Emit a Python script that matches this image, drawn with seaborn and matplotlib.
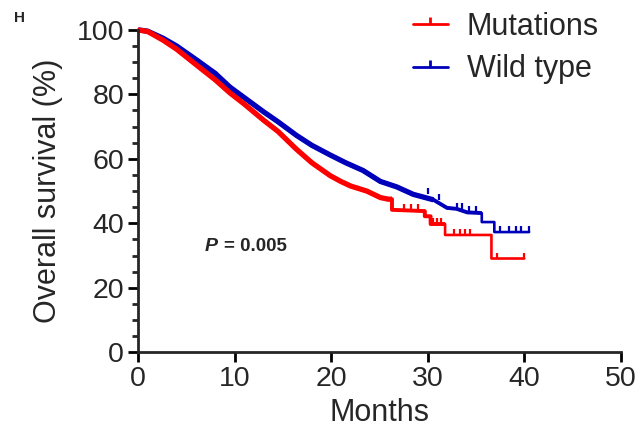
import numpy as np
import pandas as pd
import matplotlib
matplotlib.use("Agg")
import matplotlib.pyplot as plt
from matplotlib.lines import Line2D
from matplotlib.ticker import MultipleLocator
import seaborn as sns

# Kaplan-Meier curves (months, survival %)
mut_time = [0, 1, 2.6, 4, 6.1, 8, 9.5, 11, 13.0, 14.5, 16.4, 18, 19.9, 21, 22, 23.7, 25.1, 25.9,
            26.3, 26.3, 29.7, 29.7, 30.3, 30.3, 31.8, 31.8, 36.6, 36.6, 40.0]
mut_surv = [100, 99.5, 96.8, 94, 89, 84.5, 80.5, 77, 72, 68.5, 63, 58.8, 54.8, 53, 51.6, 50, 48, 47.5,
            47.5, 44.2, 43.8, 42.2, 42.2, 39.8, 39.8, 36.4, 36.4, 29.1, 29.1]
wt_time = [0, 1, 2.6, 4, 6.1, 8, 9.5, 11, 13.0, 14.5, 16.4, 18, 19.9, 21.5, 23.3, 25.1, 26.8, 28.5,
           30.6, 32.0, 33, 34.1, 35.6, 35.6, 36.9, 36.9, 40.5]
wt_surv = [100, 99.6, 97.4, 95, 90.6, 86.5, 82.3, 79, 74.6, 71.5, 67.3, 64.2, 61.2, 58.8, 56.4, 53, 51.3, 49,
           47.3, 44.8, 44.5, 43.4, 43.2, 40.4, 40.4, 37.3, 37.3]

# censored observations (tick marks) in the sparse tail
mut_cens = [27.5, 28.3, 29.0, 30.6, 31.0, 31.4, 32.7, 33.3, 33.9, 34.4, 37.2, 39.95]
wt_cens = [30.0, 31.2, 33.0, 33.6, 34.3, 35.0, 37.5, 38.4, 39.1, 39.7, 40.45]

groups = ["Mutations", "Wild type"]
colors = {"Mutations": "#FF0000", "Wild type": "#0000BB"}
# where the dense censoring (thick-looking curve) ends
thick_until = {"Mutations": 31.8, "Wild type": 35.6}

df = pd.concat([
    pd.DataFrame({"Months": wt_time, "Survival": wt_surv, "Group": "Wild type"}),
    pd.DataFrame({"Months": mut_time, "Survival": mut_surv, "Group": "Mutations"}),
])

sns.set_style("ticks")
plt.rcParams["font.family"] = ["Liberation Sans", "DejaVu Sans"]

fig = plt.figure(figsize=(6.42, 4.46), dpi=100)
ax = fig.add_axes([0.215, 0.21, 0.752, 0.723])

for g, cens in [("Wild type", wt_cens), ("Mutations", mut_cens)]:
    sub = df[df["Group"] == g].reset_index(drop=True)
    n_thick = (sub["Months"] < thick_until[g]).sum() + 1
    early = sub.iloc[:n_thick]
    sns.lineplot(data=sub, x="Months", y="Survival", sort=False, estimator=None,
                 color=colors[g], lw=1.9, ax=ax, clip_on=False)
    sns.lineplot(data=early.iloc[:-6] if g == "Mutations" else early.iloc[:-4], x="Months", y="Survival",
                 sort=False, estimator=None, color=colors[g], lw=3.8, ax=ax, clip_on=False,
                 solid_capstyle="butt")
    sns.lineplot(data=early, x="Months", y="Survival", sort=False, estimator=None,
                 color=colors[g], lw=2.8, ax=ax, clip_on=False, solid_capstyle="butt")
    t = np.array(sub["Months"])
    s = np.array(sub["Survival"])
    idx = np.searchsorted(t, cens, side="right") - 1
    ax.plot(cens, s[idx], ls="none", marker=2, ms=4, mew=1.6, color=colors[g], clip_on=False)

ax.set_xlim(0, 50)
ax.set_ylim(0, 100)
ax.xaxis.set_major_locator(MultipleLocator(10))
ax.yaxis.set_major_locator(MultipleLocator(20))
ax.yaxis.set_minor_locator(MultipleLocator(5))
sns.despine(ax=ax)
for sp in ["left", "bottom"]:
    ax.spines[sp].set_linewidth(2)
ax.tick_params(axis="both", which="major", labelsize=20.5, width=2, length=7, pad=3, color="black")
ax.tick_params(axis="y", which="minor", width=2, length=4.5)
ax.set_xlabel("Months", fontsize=22, labelpad=4)
ax.set_ylabel("Overall survival (%)", fontsize=22, labelpad=10)

ax.text(6.9, 32.8, "P", fontsize=14, va="center", ha="left", style="italic", fontweight="bold")
ax.annotate("= 0.005", xy=(6.9, 32.8), xytext=(14, 0), textcoords="offset points",
            fontsize=13.5, va="center", ha="left", fontweight="bold")

handles = [Line2D([0], [0], color=colors[g], lw=2, marker=2, ms=5, mew=2) for g in groups]
fig.legend(handles, groups, loc="upper left", bbox_to_anchor=(0.643, 0.974), frameon=False,
           fontsize=22, handlelength=1.15, handletextpad=0.62, labelspacing=0.42,
           borderaxespad=0, borderpad=0)

fig.text(0.03, 0.96, "H", fontsize=11, fontweight="bold", va="center", ha="center")

fig.savefig("out.png", dpi=100)
